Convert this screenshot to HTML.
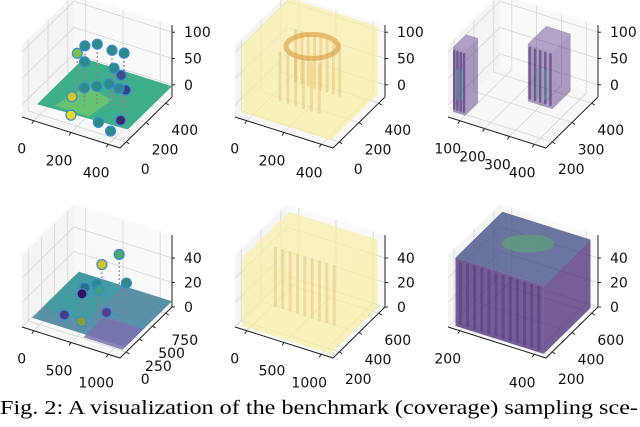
<!DOCTYPE html>
<html><head><meta charset="utf-8">
<style>
html,body{margin:0;padding:0;background:#fff;}
#wrap{position:relative;width:640px;height:427px;overflow:hidden;}
svg{position:absolute;left:0;top:0;}
text{font-family:"DejaVu Sans","Liberation Sans",sans-serif;}
</style></head>
<body>
<div id="wrap">
<svg id="fig" width="640" height="427" viewBox="0 0 640 427">
<text x="0" y="414" font-size="20.5" textLength="638" lengthAdjust="spacingAndGlyphs" style="font-family:'Liberation Serif',serif">Fig. 2: A visualization of the benchmark (coverage) sampling sce-</text>
</svg>
</div>
<script>
// ---- data ----
const colOffsets = [0, 213, 426];
const rowOffsets = [0, 210];
const xTicksTop = ["0","200","400"];
const yTicksTop = ["0","200","400"];
const zTicksTop = ["0","50","100"];
const xTicksTopRight = ["100","200","300","400"];
const yTicksTopRight = ["200","300","400"];
const xTicksBot = ["0","500","1000"];
const yTicksBotL = ["0","250","500","750"];
const yTicksBotM = ["200","400","600"];
const xTicksBotR = ["200","400"];
const zTicksBot = ["0","20","40"];
const nodesTopU = [0.35,0.45,0.6,0.75,0.3,0.4,0.7,0.8,0.9,0.45,0.55,0.65,0.75,0.35,0.42,0.9,0.85,0.7];
const nodesTopV = [0.55,0.6,0.6,0.55,0.5,0.45,0.45,0.4,0.3,0.35,0.4,0.45,0.45,0.3,0.15,0.2,0.1,0.15];
const nodesTopW = [0.75,0.78,0.76,0.82,0.66,0.62,0.66,0.64,0.55,0.35,0.38,0.42,0.4,0.22,0.1,0.2,0.1,0.12];
const nodesBotU = [0.7,0.55,0.55,0.6,0.8,0.4,0.4,0.5,0.65,0.3];
const nodesBotV = [0.55,0.5,0.4,0.35,0.5,0.45,0.4,0.2,0.4,0.25];
const nodesBotW = [0.92,0.75,0.55,0.52,0.6,0.4,0.35,0.15,0.2,0.12];
const nodeColorsTop = ["#2a8b8a","#2a8b8a","#2a8b8a","#2a8b8a","#7ac04a","#2a8b8a","#2a8b8a","#3b4f8a","#3b3b8a","#2a8b8a","#2a8b8a","#2a8b8a","#2a8b8a","#d4c42a","#e8d82a","#3a2a6a","#2a8b8a","#2a8b8a"];
const nodeColorsBot = ["#4aa870","#d4c42a","#2a8b8a","#3aa080","#2a8b8a","#2a6f8a","#3a1060","#8a9a3a","#5a3a8a","#4a3a8a"];

const NS="http://www.w3.org/2000/svg";
const svg=document.getElementById('fig');
function el(tag,attrs,parent){const e=document.createElementNS(NS,tag);for(const k in attrs)e.setAttribute(k,attrs[k]);(parent||svg).appendChild(e);return e;}
const A=[22,117],B=[120,148],D=[74,66],H=72;
function proj(ox,oy,u,v,w){return [ox+A[0]+u*(B[0]-A[0])+v*(D[0]-A[0]), oy+A[1]+u*(B[1]-A[1])+v*(D[1]-A[1])-w*H];}
function pts(a){return a.map(p=>p[0].toFixed(1)+','+p[1].toFixed(1)).join(' ');}

function panel(ci,ri,xt,yt,zt,name,z0,z1){
  const ox=colOffsets[ci],oy=rowOffsets[ri];
  const g=el('g',{});
  
  
  const P=(u,v,w)=>proj(ox,oy,u,v,w);
  el('polygon',{points:pts([P(0,0,0),P(1,0,0),P(1,1,0),P(0,1,0)]),fill:'#f7f7f7',stroke:'none'},g);
  el('polygon',{points:pts([P(0,0,0),P(0,1,0),P(0,1,1),P(0,0,1)]),fill:'#f4f4f4',stroke:'none'},g);
  el('polygon',{points:pts([P(0,1,0),P(1,1,0),P(1,1,1),P(0,1,1)]),fill:'#f9f9f9',stroke:'none'},g);
  const gs={stroke:'#d6d6d6','stroke-width':0.8,fill:'none'};
  const nx=xt.length,ny=yt.length,nz=zt.length;
  const fr=(i,n)=>0.12+0.76*i/(n-1);
  const zf=(i,n)=>z0+(z1-z0)*i/(n-1);
  for(let i=0;i<nx;i++){const u=fr(i,nx);
    el('polyline',Object.assign({points:pts([P(u,0,0),P(u,1,0),P(u,1,1)])},gs),g);}
  for(let i=0;i<ny;i++){const v=fr(i,ny);
    el('polyline',Object.assign({points:pts([P(1,v,0),P(0,v,0),P(0,v,1)])},gs),g);}
  for(let i=0;i<nz;i++){const w=zf(i,nz);
    el('polyline',Object.assign({points:pts([P(0,0,w),P(0,1,w),P(1,1,w)])},gs),g);}
  el('polyline',{points:pts([P(0,0,0),P(1,0,0),P(1,1,0)]),stroke:'#222','stroke-width':1,fill:'none'},g);
  el('line',{x1:P(1,1,0)[0],y1:P(1,1,0)[1],x2:P(1,1,1)[0],y2:P(1,1,1)[1],stroke:'#222','stroke-width':1},g);
  for(let i=0;i<nx;i++){const u=fr(i,nx),p=P(u,0,0);
    el('line',{x1:p[0],y1:p[1],x2:p[0]-2,y2:p[1]+3,stroke:'#222'},g);
    const t=el('text',{x:p[0]-12,y:p[1]+33,'font-size':14,'text-anchor':'middle',fill:'#111'},g);t.textContent=xt[i];
    }
  for(let i=0;i<ny;i++){const v=fr(i,ny),p=P(1,v,0);
    el('line',{x1:p[0],y1:p[1],x2:p[0]+3,y2:p[1]+2,stroke:'#222'},g);
    const t=el('text',{x:p[0]+19,y:p[1]+32,'font-size':14,'text-anchor':'middle',fill:'#111'},g);t.textContent=yt[i];
    }
  for(let i=0;i<nz;i++){const w=zf(i,nz),p=P(1,1,w);
    el('line',{x1:p[0],y1:p[1],x2:p[0]+3,y2:p[1],stroke:'#222'},g);
    const t=el('text',{x:p[0]+12,y:p[1]+5,'font-size':14,fill:'#111'},g);t.textContent=zt[i];
    }
  return {g,P};
}
function box(pn,u0,u1,v0,v1,w0,w1,side,top,op){
  const P=pn.P;
  el('polygon',{points:pts([P(u0,v0,w0),P(u1,v0,w0),P(u1,v0,w1),P(u0,v0,w1)]),fill:side,'fill-opacity':op},pn.g);
  el('polygon',{points:pts([P(u1,v0,w0),P(u1,v1,w0),P(u1,v1,w1),P(u1,v0,w1)]),fill:side,'fill-opacity':op},pn.g);
  el('polygon',{points:pts([P(u0,v0,w1),P(u1,v0,w1),P(u1,v1,w1),P(u0,v1,w1)]),fill:top,'fill-opacity':op},pn.g);
}
function streaks(pn,u0,u1,v,w0,w1,n,col,op,sw){
  for(let i=0;i<n;i++){const u=u0+(u1-u0)*i/(n-1);const a=pn.P(u,v,w0),b=pn.P(u,v,w1);
    el('line',{x1:a[0],y1:a[1],x2:b[0],y2:b[1],stroke:col,'stroke-width':sw||3,'stroke-opacity':op,'stroke-linecap':'round'},pn.g);}
}
function nodes(pn,U,V,W,C){
  for(let i=0;i<U.length;i++){const a=pn.P(U[i],V[i],W[i]),b=pn.P(U[i],V[i],0.12);
    el('line',{x1:a[0],y1:a[1],x2:b[0],y2:b[1],stroke:'#9a7a8a','stroke-width':1.5,'stroke-dasharray':'1.5,2.5'},pn.g);}
  for(let i=0;i<U.length;i++){const a=pn.P(U[i],V[i],W[i]);
    const c=el('circle',{cx:a[0],cy:a[1],r:5,fill:C[i],stroke:'#3a8ad0','stroke-width':1.2},pn.g);
    }
}

// Top-left
let p=panel(0,0,xTicksTop,yTicksTop,zTicksTop,'panel-top-left',0.17,0.9);
el('polygon',{points:pts([p.P(0.1,0.1,0.15),p.P(1,0.15,0.15),p.P(1,1,0.15),p.P(0.1,1,0.15)]),fill:'#3fae8a'},p.g);
el('polygon',{points:pts([p.P(0.25,0.15,0.16),p.P(0.6,0.15,0.16),p.P(0.65,0.5,0.16),p.P(0.35,0.6,0.16)]),fill:'#72c86a','fill-opacity':0.8},p.g);
nodes(p,nodesTopU,nodesTopV,nodesTopW,nodeColorsTop);
// Top-middle
p=panel(1,0,xTicksTop,yTicksTop,zTicksTop,'panel-top-middle',0.17,0.9);
box(p,0.05,0.95,0.05,0.95,0.05,1,'#f8f0a0','#f8f0a8',0.7);
streaks(p,0.3,0.75,0.6,0.2,0.9,8,'#e0a040',0.3);
streaks(p,0.3,0.7,0.3,0.15,0.8,6,'#d89040',0.25);
let c=p.P(0.52,0.5,0.85);
el('ellipse',{cx:c[0],cy:c[1],rx:26,ry:12,fill:'none',stroke:'#d89030','stroke-width':5,'stroke-opacity':0.55},p.g);
// Top-right
p=panel(2,0,xTicksTopRight,yTicksTopRight,zTicksTop,'panel-top-right',0.17,0.9);
box(p,0.0,0.12,0.1,0.35,0.0,0.9,'#4a2a7a','#5a3a8a',0.45);
box(p,0.55,0.8,0.5,0.85,0.1,0.9,'#4a2a7a','#5a3a8a',0.45);
streaks(p,0.01,0.11,0.1,0.05,0.85,4,'#3a1a6a',0.5,2.5);
streaks(p,0.57,0.78,0.5,0.15,0.85,5,'#3a1a6a',0.5,2.5);
streaks(p,0.04,0.09,0.1,0.2,0.6,2,'#40b0a0',0.5,2);
streaks(p,0.65,0.72,0.5,0.2,0.6,2,'#40b0a0',0.5,2);
// Bottom-left
p=panel(0,1,xTicksBot,yTicksBotL,zTicksBot,'panel-bottom-left',0.0,0.68);
el('polygon',{points:pts([p.P(0.05,0.1,0.08),p.P(1,0.1,0.08),p.P(1,1,0.08),p.P(0.05,1,0.08)]),fill:'#3f7f9a','fill-opacity':0.85},p.g);
el('polygon',{points:pts([p.P(0.05,0.3,0.08),p.P(0.5,0.3,0.08),p.P(0.5,1,0.08),p.P(0.05,1,0.08)]),fill:'#3aa0a0','fill-opacity':0.7},p.g);
el('polygon',{points:pts([p.P(0.6,0.05,0.08),p.P(1,0.05,0.08),p.P(1,0.45,0.08),p.P(0.6,0.45,0.08)]),fill:'#7a70b0','fill-opacity':0.85},p.g);
nodes(p,nodesBotU,nodesBotV,nodesBotW,nodeColorsBot);
// Bottom-middle
p=panel(1,1,xTicksBot,yTicksBotM,zTicksBot,'panel-bottom-middle',0.0,0.68);
box(p,0.05,0.95,0.05,0.95,0.0,0.95,'#f8f0a0','#f8f0a8',0.7);
streaks(p,0.2,0.8,0.4,0.1,0.9,9,'#d89040',0.25);
// Bottom-right
p=panel(2,1,xTicksBotR,yTicksBotM,zTicksBot,'panel-bottom-right',0.0,0.68);
box(p,0.05,0.95,0.05,0.95,0.0,0.95,'#4a2a78','#3a4a80',0.75);
streaks(p,0.1,0.9,0.05,0.05,0.9,12,'#3a2a6a',0.35);
c=p.P(0.5,0.6,0.95);
el('ellipse',{cx:c[0],cy:c[1],rx:26,ry:9,fill:'#5ab070','fill-opacity':0.55},p.g);
</script>
</body></html>
